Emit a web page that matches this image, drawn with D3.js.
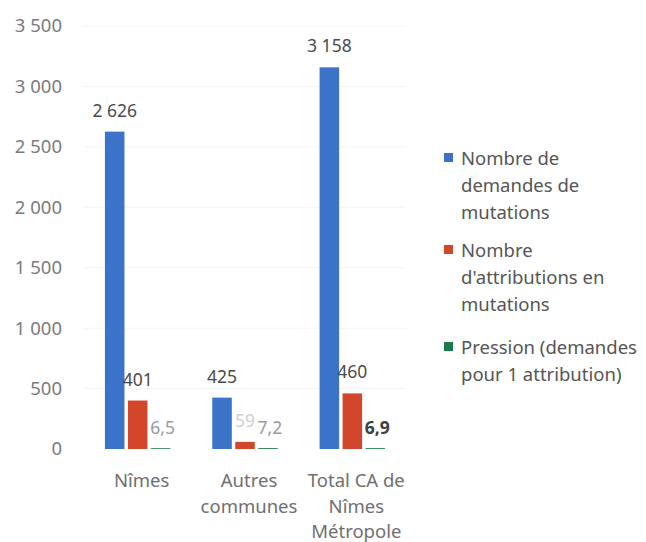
<!DOCTYPE html>
<html>
<head>
<meta charset="utf-8">
<script src="https://cdn.jsdelivr.net/npm/d3@7"></script>
<style>
  body { margin: 0; background: #fff; }
  svg text { font-family: "Noto Sans", "Open Sans", sans-serif; }
</style>
</head>
<body>
<div id="chart"></div>
<script>
// data
const categories = [["Nîmes"], ["Autres", "communes"], ["Total CA de", "Nîmes", "Métropole"]];
const seriesNames = [
  ["Nombre de", "demandes de", "mutations"],
  ["Nombre", "d'attributions en", "mutations"],
  ["Pression (demandes", "pour 1 attribution)"]
];
const demandes = [2626, 425, 3158];
const attributions = [401, 59, 460];
const pression = [6.5, 7.2, 6.9];
const yTicks = [0, 500, 1000, 1500, 2000, 2500, 3000, 3500];

const colors = ["#3b73c9", "#d2462b", "#1c7a4d"];

const W = 646, H = 542;
const svg = d3.select("#chart").append("svg")
  .attr("width", W).attr("height", H);

const catKeys = categories.map(c => c.join(" "));
const x0 = d3.scaleBand().domain(catKeys).range([84, 406])
  .paddingInner(0.39).paddingOuter(0.195);
const x1 = d3.scaleBand().domain([0, 1, 2]).range([0, x0.bandwidth()])
  .paddingInner(0.15);
const y = d3.scaleLinear().domain([0, 3500]).range([449, 26]);

// faint gridlines
svg.append("g")
  .selectAll("line")
  .data(yTicks.slice(1))
  .enter().append("line")
  .attr("x1", 84).attr("x2", 406)
  .attr("y1", d => y(d)).attr("y2", d => y(d))
  .attr("stroke", "#f5f5f5");

// y axis labels
const yAxis = svg.append("g")
  .attr("transform", "translate(70,0)")
  .call(d3.axisLeft(y).tickValues(yTicks).tickSize(0).tickPadding(8)
    .tickFormat(d => d3.format(",")(d).replace(",", " ")));
yAxis.select(".domain").remove();
yAxis.selectAll("text")
  .style("font-size", "18.5px")
  .attr("fill", "#7b7b7b");

const allSeries = [demandes, attributions, pression];

// bars
allSeries.forEach(function(vals, s) {
  svg.append("g").selectAll("rect")
    .data(vals)
    .enter().append("rect")
    .attr("x", (d, i) => x0(catKeys[i]) + x1(s))
    .attr("width", x1.bandwidth())
    .attr("y", d => y(d))
    .attr("height", d => y(0) - y(d))
    .attr("fill", colors[s]);
});

// value labels
const fmt = d => d3.format(",")(d).replace(",", " ");
allSeries.slice(0, 2).forEach(function(vals, s) {
  svg.append("g").selectAll("text")
    .data(vals)
    .enter().append("text")
    .attr("x", (d, i) => x0(catKeys[i]) + x1(s) + x1.bandwidth() / 2)
    .attr("y", d => y(d) - 15)
    .attr("text-anchor", "middle")
    .style("font-size", "17.5px")
    .attr("fill", (d, i) => (s === 1 && i === 1) ? "#cfcfcf" : "#4a4a4a")
    .text(fmt);
});

svg.append("g").selectAll("text")
  .data(pression)
  .enter().append("text")
  .attr("x", (d, i) => x0(catKeys[i]) + x1(2) + x1.bandwidth() / 2 + 2)
  .attr("y", d => y(d) - 14)
  .attr("text-anchor", "middle")
  .style("font-size", "17.5px")
  .style("font-weight", (d, i) => i === 2 ? "bold" : "normal")
  .attr("fill", (d, i) => i === 2 ? "#404040" : "#9a9a9a")
  .text(d => d3.format(".1f")(d).replace(".", ","));

// category labels
const catG = svg.append("g").selectAll("text")
  .data(categories)
  .enter().append("text")
  .attr("x", (d, i) => x0(catKeys[i]) + x0.bandwidth() / 2 + 4)
  .attr("y", 487)
  .attr("text-anchor", "middle")
  .style("font-size", "18.5px")
  .attr("fill", "#6f6f6f");
catG.selectAll("tspan")
  .data(d => d)
  .enter().append("tspan")
  .attr("x", function() { return d3.select(this.parentNode).attr("x"); })
  .attr("dy", (d, i) => i === 0 ? 0 : 25.5)
  .text(d => d);

// legend
const legendTop = [165, 257, 354];
seriesNames.forEach(function(lines, s) {
  svg.append("rect")
    .attr("x", 444).attr("y", legendTop[s] - 12)
    .attr("width", 9).attr("height", 9)
    .attr("fill", colors[s]);
  const t = svg.append("text")
    .attr("x", 461).attr("y", legendTop[s])
    .style("font-size", "18.5px")
    .attr("fill", "#555");
  lines.forEach(function(line, j) {
    t.append("tspan")
      .attr("x", 461)
      .attr("dy", j === 0 ? 0 : 27)
      .text(line);
  });
});
</script>
</body>
</html>
